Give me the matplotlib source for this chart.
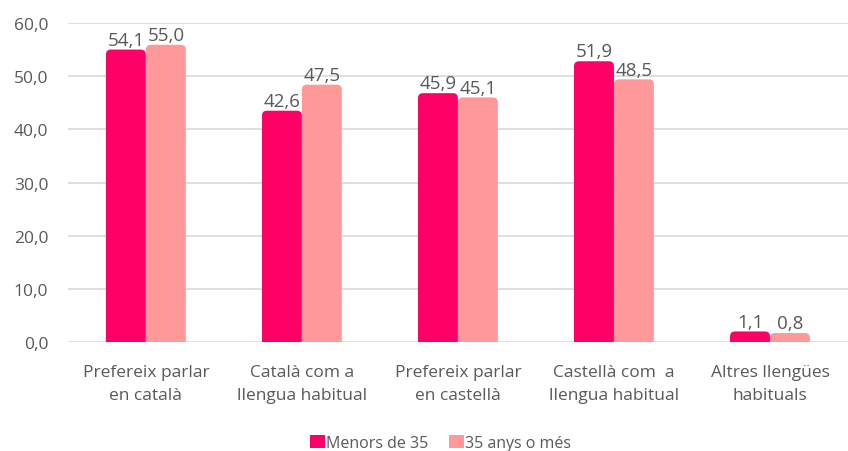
import numpy as np
import matplotlib.pyplot as plt
from matplotlib.patches import FancyBboxPatch, Patch

categories = ["Prefereix parlar\nen català", "Català com a\nllengua habitual",
              "Prefereix parlar\nen castellà", "Castellà com  a\nllengua habitual",
              "Altres llengües\nhabituals"]
menors = [54.1, 42.6, 45.9, 51.9, 1.1]
grans = [55.0, 47.5, 45.1, 48.5, 0.8]
series_names = ["Menors de 35", "35 anys o més"]
colors = ["#FF0066", "#FF9999"]
yticks = [0, 10, 20, 30, 40, 50, 60]

plt.rcParams['font.family'] = ['Open Sans', 'DejaVu Sans']
grey = "#595959"

fig = plt.figure(figsize=(8.48, 4.52), dpi=100)
ax = fig.add_axes([0.080, 0.241, 0.920, 0.706])

x = np.arange(len(categories))
w = 0.256
cap = 0.9  # round cap drawn above the value

for vals, off, col in [(menors, -w / 2, colors[0]), (grans, w / 2, colors[1])]:
    bars = ax.bar(x + off, vals, w, color=col)
    for b, v in zip(bars, vals):
        b.set_visible(False)
        p = FancyBboxPatch((b.get_x(), -3), b.get_width(), v + 3 + cap,
                           boxstyle="round,pad=0,rounding_size=0.032",
                           mutation_aspect=29.3, fc=col, ec="none", zorder=3)
        ax.add_patch(p)
        ax.annotate(f"{v:.1f}".replace(".", ","), (b.get_x() + b.get_width() / 2, v),
                    xytext=(0, 4), textcoords="offset points", ha="center", va="bottom",
                    fontsize=13.5, color=grey, zorder=4)

ax.set_xlim(-0.5, len(categories) - 0.5)
ax.set_ylim(0, 60)
ax.set_yticks(yticks)
ax.set_yticklabels([f"{t:.1f}".replace(".", ",") for t in yticks], fontsize=12.5, color=grey)
ax.set_xticks(x)
ax.set_xticklabels(categories, fontsize=12.5, color=grey, linespacing=1.55)
ax.tick_params(axis="both", length=0)
ax.tick_params(axis="x", pad=16)
ax.tick_params(axis="y", pad=14)
ax.grid(axis="y", color="#D9D9D9", linewidth=1.2, zorder=0)
ax.set_axisbelow(True)
for s in ax.spines.values():
    s.set_visible(False)

handles = [Patch(fc=c, ec="none") for c in colors]
fig.legend(handles, series_names, loc="lower center", bbox_to_anchor=(0.52, -0.032), ncol=2,
           frameon=False, fontsize=11.5, labelcolor=grey, handlelength=0.9, handleheight=0.9,
           handletextpad=0.1, columnspacing=1.3)

fig.savefig("out.png", dpi=100)
